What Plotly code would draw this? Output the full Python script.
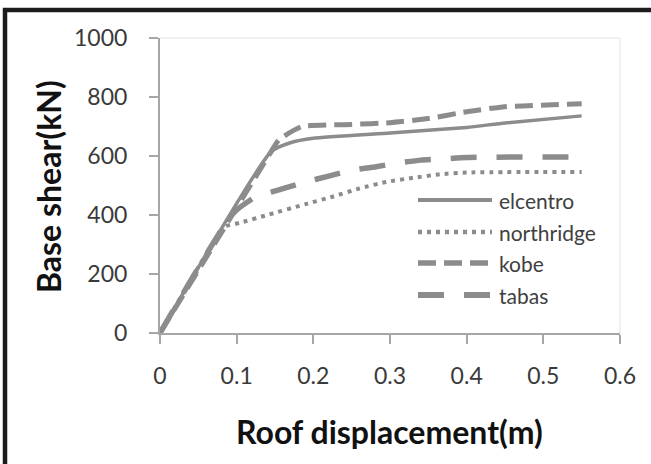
import plotly.graph_objects as go

# ---- data ----
elcentro_x = [0, 0.145, 0.17, 0.2, 0.3, 0.4, 0.45, 0.55]
elcentro_y = [0, 615, 645, 660, 678, 697, 712, 736]

northridge_x = [0, 0.085, 0.105, 0.14, 0.19, 0.225, 0.26, 0.295, 0.33, 0.365, 0.4, 0.55]
northridge_y = [0, 360, 374, 400, 437, 462, 490, 512, 526, 538, 544, 546]

kobe_x = [0, 0.145, 0.155, 0.185, 0.25, 0.3, 0.35, 0.4, 0.45, 0.55]
kobe_y = [0, 615, 655, 700, 707, 713, 727, 750, 767, 777]

tabas_x = [0, 0.095, 0.125, 0.155, 0.19, 0.22, 0.25, 0.28, 0.31, 0.34, 0.37, 0.4, 0.55]
tabas_y = [0, 405, 462, 485, 512, 532, 552, 563, 576, 586, 590, 595, 597]

series_names = ["elcentro", "northridge", "kobe", "tabas"]

x_ticks = [0, 0.1, 0.2, 0.3, 0.4, 0.5, 0.6]
x_tick_labels = ["0", "0.1", "0.2", "0.3", "0.4", "0.5", "0.6"]
y_ticks = [0, 200, 400, 600, 800, 1000]
y_tick_labels = ["0", "200", "400", "600", "800", "1000"]

x_title = "Roof displacement(m)"
y_title = "Base shear(kN)"

# ---- styling ----
W, H = 651, 464
L, R, T, B = 160, 31, 38, 131
FONT = "Lato, Open Sans, sans-serif"
GREY = "#8c8c8c"
AXIS = "#a6a6a6"

styles = {
    "elcentro":   dict(width=3.5, dash="solid"),
    "northridge": dict(width=4, dash="4px,5px"),
    "kobe":       dict(width=5, dash="18px,8px"),
    "tabas":      dict(width=5.5, dash="26px,20px"),
}
data = {
    "elcentro": (elcentro_x, elcentro_y),
    "northridge": (northridge_x, northridge_y),
    "kobe": (kobe_x, kobe_y),
    "tabas": (tabas_x, tabas_y),
}

pw, ph = W - L - R, H - T - B


def px(xp):
    return (xp - L) / pw


def py(yp):
    return (H - B - yp) / ph


fig = go.Figure()
for name in series_names:
    xs, ys = data[name]
    st = styles[name]
    fig.add_trace(go.Scatter(
        x=xs, y=ys, mode="lines", name=name, showlegend=False,
        line=dict(color=GREY, width=st["width"], dash=st["dash"],
                  shape="spline", smoothing=0.5),
        hoverinfo="skip",
    ))

shapes = []
annotations = []

# faint plot-area border (top & right)
shapes.append(dict(type="line", xref="paper", yref="paper", x0=0, x1=1, y0=1, y1=1,
                   line=dict(color="#ececec", width=1.5), layer="below"))
shapes.append(dict(type="line", xref="paper", yref="paper", x0=1, x1=1, y0=0, y1=1,
                   line=dict(color="#ececec", width=1.5), layer="below"))

# black frame: only its top and left edges fall inside the picture
shapes.append(dict(type="rect", xref="paper", yref="paper",
                   x0=px(5), x1=px(W + 40), y0=py(H + 40), y1=py(10),
                   line=dict(color="#1c1c1c", width=4.5), fillcolor="rgba(0,0,0,0)"))

# custom legend
leg_x0, leg_x1, leg_text_x = 418, 492, 497
leg_rows = [200, 232, 263, 295]
for name, yrow in zip(series_names, leg_rows):
    st = styles[name]
    shapes.append(dict(type="line", xref="paper", yref="paper",
                       x0=px(leg_x0), x1=px(leg_x1), y0=py(yrow), y1=py(yrow),
                       line=dict(color=GREY, width=st["width"] + 0.5, dash=st["dash"])))
    annotations.append(dict(xref="paper", yref="paper", x=px(leg_text_x), y=py(yrow),
                            text=name, showarrow=False, xanchor="left", yanchor="middle",
                            font=dict(family=FONT, size=21, color="#404040")))

# axis titles
annotations.append(dict(xref="paper", yref="paper", x=px(389), y=py(431), text=f"<b>{x_title}</b>",
                        showarrow=False, xanchor="center", yanchor="middle",
                        font=dict(family=FONT, size=32, color="#111111")))
annotations.append(dict(xref="paper", yref="paper", x=px(48), y=py(187), text=f"<b>{y_title}</b>",
                        showarrow=False, xanchor="center", yanchor="middle", textangle=-90,
                        font=dict(family=FONT, size=32, color="#111111")))

fig.update_layout(
    width=W, height=H,
    margin=dict(l=L, r=R, t=T, b=B, pad=0),
    paper_bgcolor="white", plot_bgcolor="white",
    shapes=shapes, annotations=annotations,
    showlegend=False,
)
fig.update_xaxes(
    range=[0, 0.6], tickvals=x_ticks, ticktext=x_tick_labels,
    showline=True, linecolor=AXIS, linewidth=2, ticks="outside", ticklen=9,
    tickcolor=AXIS, tickwidth=1.5, showgrid=False, zeroline=False,
    tickfont=dict(family=FONT, size=23, color="#3a3a3a"), ticklabelstandoff=12,
)
fig.update_yaxes(
    range=[0, 1000], tickvals=y_ticks, ticktext=y_tick_labels,
    showline=True, linecolor=AXIS, linewidth=2, ticks="outside", ticklen=9,
    tickcolor=AXIS, tickwidth=1.5, showgrid=False, zeroline=False,
    tickfont=dict(family=FONT, size=23, color="#3a3a3a"), ticklabelstandoff=17,
)

fig.write_html("out.html", config={"displayModeBar": False})
